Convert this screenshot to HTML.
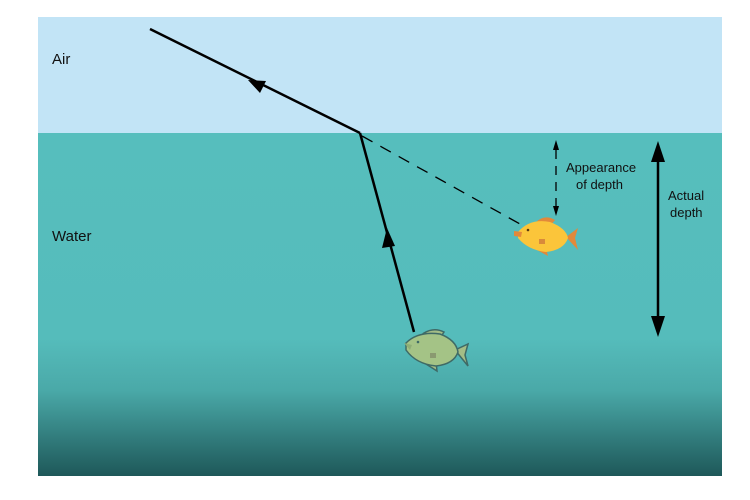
<!DOCTYPE html>
<html><head><style>body{margin:0;background:#fff}svg{display:block}</style></head><body>
<svg width="750" height="500" viewBox="0 0 750 500" font-family="Liberation Sans, sans-serif">
<defs>
<linearGradient id="w" x1="0" y1="0" x2="0" y2="1">
<stop offset="0" stop-color="#56bebd"/>
<stop offset="0.6" stop-color="#55bcbb"/>
<stop offset="0.75" stop-color="#4aa9a8"/>
<stop offset="1" stop-color="#1e5859"/>
</linearGradient>
</defs>
<rect x="38" y="17" width="684" height="116" fill="#c2e4f6"/>
<rect x="38" y="133" width="684" height="343" fill="url(#w)"/>
<text x="52" y="64" font-size="15" fill="#111">Air</text>
<text x="52" y="241" font-size="15" fill="#111">Water</text>
<g stroke="#000" stroke-width="2.5" fill="none">
<line x1="150" y1="29" x2="360" y2="133"/>
<line x1="360" y1="133" x2="414" y2="332"/>
</g>
<line x1="362" y1="136" x2="520" y2="224" stroke="#000" stroke-width="1.3" stroke-dasharray="12,9"/>
<polygon points="248,80 266,81 260,93" fill="#000"/>
<polygon points="387,228 382,248 395,246" fill="#000"/>
<line x1="556" y1="150" x2="556" y2="206" stroke="#000" stroke-width="1.3" stroke-dasharray="9,7"/>
<polygon points="556,140 553,150 559,150" fill="#000"/>
<polygon points="556,216 553,206 559,206" fill="#000"/>
<text x="566" y="172" font-size="13" fill="#111">Appearance</text>
<text x="576" y="189" font-size="13" fill="#111">of depth</text>
<line x1="658" y1="155" x2="658" y2="320" stroke="#000" stroke-width="2.5"/>
<polygon points="658,141 651,162 665,162" fill="#000"/>
<polygon points="658,337 651,316 665,316" fill="#000"/>
<text x="668" y="200" font-size="13" fill="#111">Actual</text>
<text x="670" y="217" font-size="13" fill="#111">depth</text>
<g>
<path d="M536,222 Q545,214 555,220 L550,226Z" fill="#e2893a"/>
<path d="M537,250 L548,256 L546,248Z" fill="#e2893a"/>
<path d="M566,237 L578,228 L575,238 L578,250Z" fill="#e2893a"/>
<path d="M518,232 Q530,218 550,222 Q566,228 568,238 Q564,250 546,252 Q528,250 518,238Z" fill="#fbc53a"/>
<path d="M514,231 L522,232 L521,237 L514,236Z" fill="#e2893a"/>
<circle cx="528" cy="230" r="1.3" fill="#5a3a10"/>
<rect x="539" y="239" width="6" height="5" fill="#d98a3a"/>
</g>
<g>
<path d="M424,333 Q434,327 444,332 L440,338Z" fill="#a4bd86" stroke="#3f6a66" stroke-width="1.5"/>
<path d="M426,364 L437,371 L436,362Z" fill="#a4bd86" stroke="#3f6a66" stroke-width="1.5"/>
<path d="M455,350 L468,344 L465,355 L468,366Z" fill="#a4bd86" stroke="#3f6a66" stroke-width="1.5"/>
<path d="M406,343 Q418,331 440,334 Q456,340 458,352 Q454,364 436,366 Q416,364 406,350Z" fill="#a4c386" stroke="#3f6a66" stroke-width="1.5"/>
<path d="M404,343 L412,345 L410,350Z" fill="#8fae76"/>
<circle cx="418" cy="342" r="1.3" fill="#3f6a66"/>
<rect x="430" y="353" width="6" height="5" fill="#8a9a70"/>
</g>
</svg>
</body></html>
